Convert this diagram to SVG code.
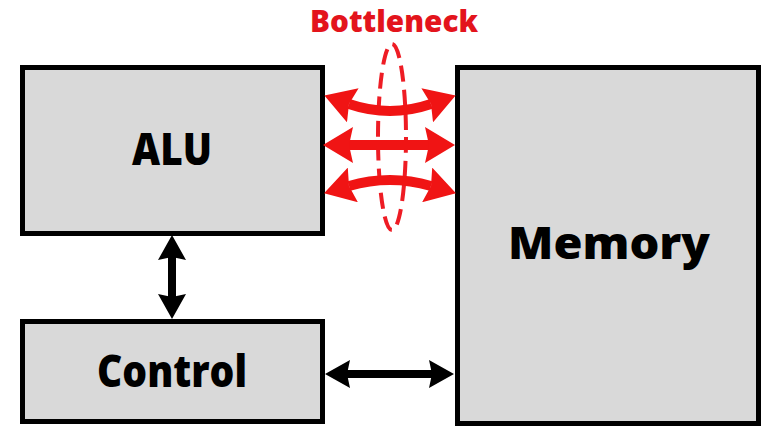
<svg xmlns="http://www.w3.org/2000/svg" width="767" height="429" viewBox="0 0 767 429">
  <style>
    .box { fill: #d9d9d9; stroke: #000; stroke-width: 5; }
    .lbl { font-family: "Open Sans", "Liberation Sans", sans-serif; font-weight: 800; fill: #000; text-anchor: middle; }
    .blk { stroke: #000; stroke-width: 8; fill: none; marker-start: url(#hb); marker-end: url(#hb); }
    .red { stroke: #f01414; stroke-width: 10; fill: none; marker-start: url(#hr); marker-end: url(#hr); }
  </style>
  <defs>
    <marker id="hb" viewBox="0 0 25 28" markerWidth="25" markerHeight="28" markerUnits="userSpaceOnUse" refX="4" refY="14" orient="auto-start-reverse">
      <path d="M0,0 L25,14 L0,28 L3,14 z" fill="#000"/>
    </marker>
    <marker id="hr" viewBox="0 0 30 36" markerWidth="30" markerHeight="36" markerUnits="userSpaceOnUse" refX="4" refY="18" orient="auto-start-reverse">
      <path d="M0,0 L30,18 L0,36 L4,18 z" fill="#f01414"/>
    </marker>
  </defs>

  <g id="alu">
    <rect class="box" x="22.5" y="67.5" width="300" height="166"/>
    <text class="lbl" x="172" y="165" font-size="45" textLength="80" lengthAdjust="spacingAndGlyphs">ALU</text>
  </g>
  <g id="control">
    <rect class="box" x="22.5" y="321.5" width="300" height="100"/>
    <text class="lbl" x="172" y="387" font-size="45" textLength="150" lengthAdjust="spacingAndGlyphs">Control</text>
  </g>
  <g id="memory">
    <rect class="box" x="457.5" y="67.5" width="301" height="356"/>
    <text class="lbl" x="609" y="259" font-size="45" textLength="202" lengthAdjust="spacingAndGlyphs">Memory</text>
  </g>
  <g id="bottleneck">
    <text x="394" y="32" font-family="'Open Sans', 'Liberation Sans', sans-serif" font-weight="800" font-size="30" fill="#e3141c" text-anchor="middle" textLength="168" lengthAdjust="spacingAndGlyphs">Bottleneck</text>
    <ellipse cx="392" cy="137" rx="14" ry="93" fill="none" stroke="#ee1c24" stroke-width="4" stroke-dasharray="16 8"/>
  </g>

  <g id="connectors">
    <path class="blk" d="M172,256 L172,298"/>
    <path class="blk" d="M346,374 L433,374"/>
    <path class="red" d="M349,104 Q390,118 431,104"/>
    <path class="red" d="M349,145 L429,145"/>
    <path class="red" d="M349,186 Q390,174 431,186"/>
  </g>
</svg>
